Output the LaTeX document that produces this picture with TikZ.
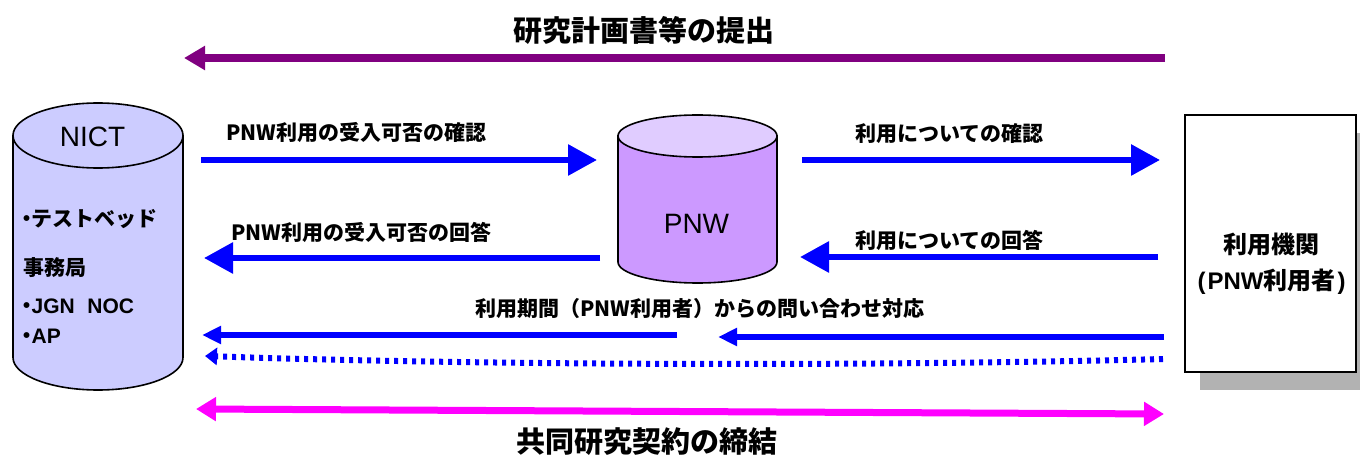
\documentclass[tikz,border=0pt]{standalone}
\usepackage{fontspec}
\setmainfont{Liberation Sans}
\newfontfamily\jp{Noto Sans CJK JP}
\usetikzlibrary{arrows.meta}
\definecolor{arrowblue}{HTML}{0000FF}
\definecolor{titlepurple}{HTML}{800080}
\definecolor{magentaline}{HTML}{FF00FF}
\definecolor{nictfill}{HTML}{CCCCFF}
\definecolor{pnwtop}{HTML}{E0CCFF}
\definecolor{pnwbody}{HTML}{CC99FF}
\definecolor{shadowgray}{HTML}{B2B2B2}
\newcommand{\jpdot}{\makebox[0.45em][c]{\jp ・}}
\begin{document}
\begin{tikzpicture}[x=1pt,y=-1pt,
  bigtxt/.style={font=\jp\bfseries\fontsize{29}{29}\selectfont, inner sep=0pt},
  lbl/.style={font=\jp\bfseries\fontsize{21}{21}\selectfont, inner sep=0pt},
  nictlbl/.style={font=\bfseries\fontsize{21}{21}\selectfont, inner sep=0pt, anchor=west},
  boxlbl/.style={font=\bfseries\fontsize{24}{24}\selectfont, inner sep=0pt},
  latinlbl/.style={font=\fontsize{28}{28}\selectfont, inner sep=0pt},
  outline/.style={draw=black, line width=1.6pt},
  bluearrow/.style={draw=arrowblue, line width=6pt, -{Triangle[length=29pt,width=30pt]}},
  smallblue/.style={draw=arrowblue, line width=6pt, -{Triangle[length=19pt,width=17pt]}},
  dotblue/.style={draw=arrowblue, line width=6pt, dash pattern=on 4pt off 5pt, -{Triangle[length=12pt,width=17pt]}},
  purplearrow/.style={draw=titlepurple, line width=8pt, -{Triangle[length=21pt,width=23pt]}},
  magentaarrow/.style={draw=magentaline, line width=7pt, {Triangle[length=20pt,width=23pt]}-{Triangle[length=20pt,width=23pt]}}
]
\useasboundingbox (0,0) rectangle (1360,457);

% ---- NICT cylinder ----
\path[fill=nictfill, outline] (13,135.5) -- (13,357.5)
  arc[start angle=180, end angle=0, x radius=85, y radius=32.5] -- (183,135.5) -- cycle;
\path[fill=nictfill, outline] (98,135.5) ellipse[x radius=85, y radius=32.5];
\node[latinlbl] (nict) at (92.5,137) {NICT};
\node[nictlbl] (n1) at (22,219) {\jpdot{\jp テストベッド}};
\node[nictlbl] (n2) at (23,268) {\jp 事務局};
\node[nictlbl] (n3) at (22,306) {\jpdot JGN\hspace{0.6em}NOC};
\node[nictlbl] (n4) at (22,336) {\jpdot AP};

% ---- PNW cylinder ----
\path[fill=pnwbody, outline] (618,136) -- (618,262)
  arc[start angle=180, end angle=0, x radius=79.5, y radius=21] -- (777,136) -- cycle;
\path[fill=pnwtop, outline] (697.5,136) ellipse[x radius=79.5, y radius=21];
\node[latinlbl] (pnw) at (696.5,224) {PNW};

% ---- user box ----
\fill[shadowgray] (1200,133) rectangle (1375,390);
\node[fill=white, outline, minimum width=171pt, minimum height=257pt, inner sep=0pt] (userbox) at (1270.5,243.5) {};
\node[boxlbl] (u1) at (1271,244) {\jp 利用機関};
\node[boxlbl] (u2) at (1271.5,282) {(\hspace{2pt}PNW{\jp 利用者}\hspace{2pt})};

% ---- coordinates for arrows ----
\coordinate (ts) at (1165,58);   \coordinate (te) at (184,58);
\coordinate (a1s) at (201,160);  \coordinate (a1e) at (597,160);
\coordinate (a2s) at (600,258);  \coordinate (a2e) at (204,258);
\coordinate (a3s) at (802,160);  \coordinate (a3e) at (1160,160);
\coordinate (a4s) at (1158,257); \coordinate (a4e) at (800,257);
\coordinate (a5s) at (677,335);  \coordinate (a5e) at (202,335);
\coordinate (a6s) at (1164,337); \coordinate (a6e) at (718,337);
\coordinate (ds) at (1163,359);  \coordinate (de) at (205,356);
\coordinate (ms) at (196,409);   \coordinate (me) at (1164,414);

% ---- top arrow ----
\draw[purplearrow] (ts) -- (te);
\node[bigtxt] (title) at (644,30) {研究計画書等の提出};

% ---- blue arrows ----
\draw[bluearrow] (a1s) -- (a1e);
\node[lbl, anchor=west] (l1) at (226,133) {PNW利用の受入可否の確認};
\draw[bluearrow] (a2s) -- (a2e);
\node[lbl, anchor=west] (l2) at (231,232) {PNW利用の受入可否の回答};
\draw[bluearrow] (a3s) -- (a3e);
\node[lbl, anchor=west] (l3) at (855,134) {利用についての確認};
\draw[bluearrow] (a4s) -- (a4e);
\node[lbl, anchor=west] (l4) at (855,240) {利用についての回答};

\draw[smallblue] (a5s) -- (a5e);
\draw[smallblue] (a6s) -- (a6e);
\node[lbl] (l5) at (700,309) {利用期間（PNW利用者）からの問い合わせ対応};
\draw[dotblue] (ds) .. controls (900,366) and (500,366) .. (de);

% ---- bottom arrow ----
\draw[magentaarrow] (ms) -- (me);
\node[bigtxt] (contract) at (647,442) {共同研究契約の締結};
\end{tikzpicture}
\end{document}
